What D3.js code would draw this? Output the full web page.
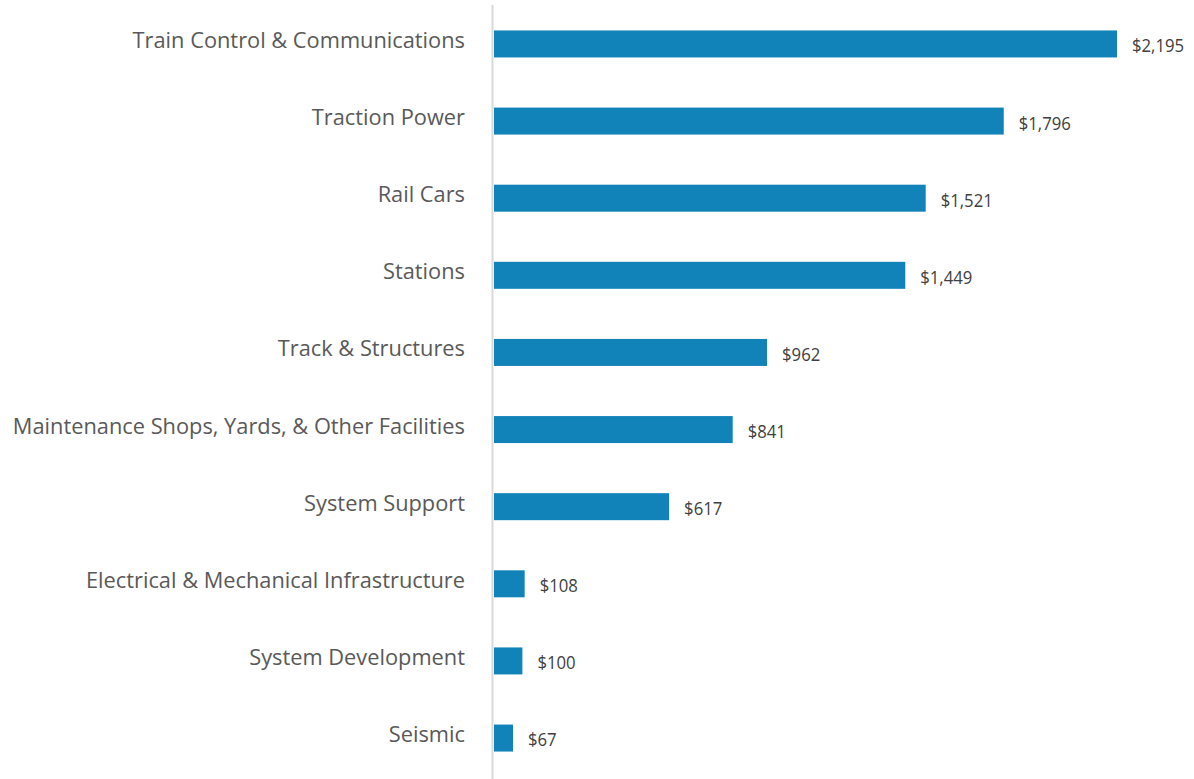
<!DOCTYPE html>
<html>
<head>
<meta charset="utf-8">
<script src="https://cdn.jsdelivr.net/npm/d3@7"></script>
<style>
  html, body { margin: 0; padding: 0; background: #fff; }
  svg { display: block; }
</style>
</head>
<body>
<svg id="chart" width="1194" height="779"></svg>
<script>
// Capital program categories and amounts (millions of dollars)
const categories = [
  "Train Control & Communications",
  "Traction Power",
  "Rail Cars",
  "Stations",
  "Track & Structures",
  "Maintenance Shops, Yards, & Other Facilities",
  "System Support",
  "Electrical & Mechanical Infrastructure",
  "System Development",
  "Seismic"
];
const amounts = [2195, 1796, 1521, 1449, 962, 841, 617, 108, 100, 67];

const data = categories.map((c, i) => ({ category: c, value: amounts[i] }));

const width = 1194, height = 779;
const margin = { top: 5, right: 76, bottom: 0, left: 494 };

const svg = d3.select("#chart");
const fontFamily = "'Open Sans', Lato, sans-serif";

const x = d3.scaleLinear()
  .domain([0, 2195])
  .range([margin.left, 1117]);

const y = d3.scaleBand()
  .domain(categories)
  .range([margin.top, height - 2])
  .paddingInner(0.65)
  .paddingOuter(0.33);

// vertical category axis line
svg.append("line")
  .attr("x1", margin.left - 1.5).attr("x2", margin.left - 1.5)
  .attr("y1", 5).attr("y2", height)
  .attr("stroke", "#d9d9d9")
  .attr("stroke-width", 2);

// bars
svg.append("g")
  .selectAll("rect")
  .data(data)
  .join("rect")
  .attr("x", x(0))
  .attr("y", d => y(d.category))
  .attr("width", d => x(d.value) - x(0))
  .attr("height", y.bandwidth())
  .attr("fill", "#1283b8");

// category labels
svg.append("g")
  .selectAll("text")
  .data(data)
  .join("text")
  .attr("x", margin.left - 29)
  .attr("y", d => y(d.category) + y.bandwidth() / 2 - 4.5)
  .attr("text-anchor", "end")
  .attr("dominant-baseline", "central")
  .attr("font-family", fontFamily)
  .attr("font-size", 21.8)
  .attr("fill", "#595959")
  .text(d => d.category);

// value labels (slightly condensed)
const fmt = d3.format("$,");
svg.append("g")
  .selectAll("text")
  .data(data)
  .join("text")
  .attr("transform", d =>
    `translate(${x(d.value) + 15},${y(d.category) + y.bandwidth() / 2 + 1}) scale(0.88,1)`)
  .attr("text-anchor", "start")
  .attr("dominant-baseline", "central")
  .attr("font-family", fontFamily)
  .attr("font-size", 19)
  .attr("fill", "#404040")
  .text(d => fmt(d.value));
</script>
</body>
</html>
